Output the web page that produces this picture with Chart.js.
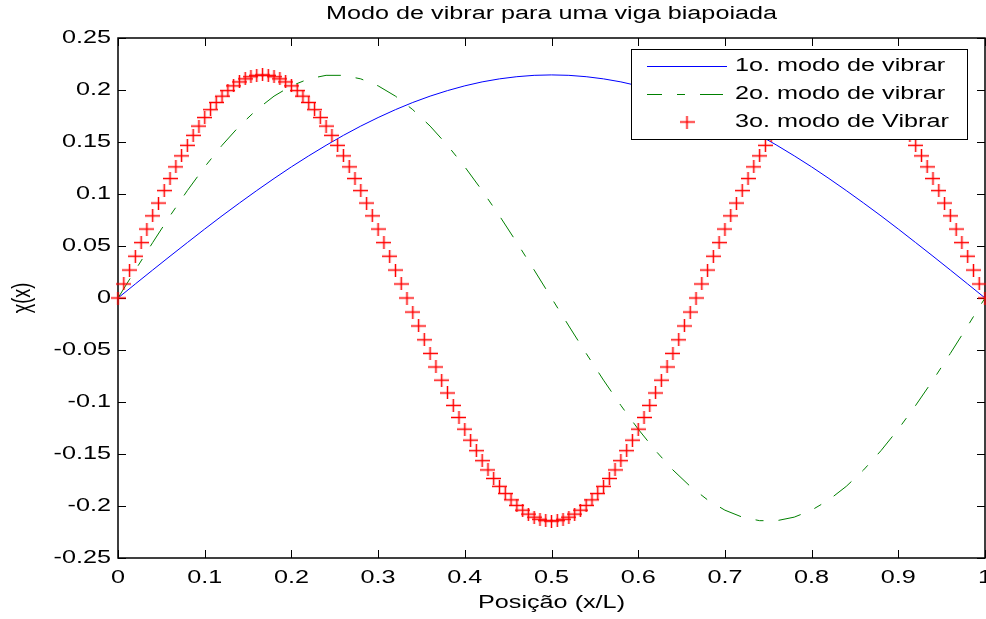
<!DOCTYPE html>
<html>
<head>
<meta charset="utf-8">
<title>Modo de vibrar para uma viga biapoiada</title>
<script src="https://cdn.jsdelivr.net/npm/chart.js"></script>
<style>
  body { margin: 0; background: #fff; }
  canvas { display: block; }
</style>
</head>
<body>
<canvas id="modos" width="986" height="619"></canvas>
<script>
// posições (x/L) das curvas continuas
var xLinha = [0, 0.02, 0.04, 0.06, 0.08, 0.1, 0.12, 0.14, 0.16, 0.18,
  0.2, 0.22, 0.24, 0.26, 0.28, 0.3, 0.32, 0.34, 0.36, 0.38,
  0.4, 0.42, 0.44, 0.46, 0.48, 0.5, 0.52, 0.54, 0.56, 0.58,
  0.6, 0.62, 0.64, 0.66, 0.68, 0.7, 0.72, 0.74, 0.76, 0.78,
  0.8, 0.82, 0.84, 0.86, 0.88, 0.9, 0.92, 0.94, 0.96, 0.98, 1];

var modo1 = [0, 0.0135, 0.0269, 0.0402, 0.0533, 0.0663, 0.0790, 0.0913, 0.1033, 0.1149,
  0.1261, 0.1367, 0.1468, 0.1564, 0.1653, 0.1735, 0.1811, 0.1880, 0.1941, 0.1994,
  0.2040, 0.2078, 0.2107, 0.2128, 0.2141, 0.2145, 0.2141, 0.2128, 0.2107, 0.2078,
  0.2040, 0.1994, 0.1941, 0.1880, 0.1811, 0.1735, 0.1653, 0.1564, 0.1468, 0.1367,
  0.1261, 0.1149, 0.1033, 0.0913, 0.0790, 0.0663, 0.0533, 0.0402, 0.0269, 0.0135, 0];

var modo2 = [0, 0.0269, 0.0533, 0.0790, 0.1033, 0.1261, 0.1468, 0.1653, 0.1811, 0.1941,
  0.2040, 0.2107, 0.2141, 0.2141, 0.2107, 0.2040, 0.1941, 0.1811, 0.1653, 0.1468,
  0.1261, 0.1033, 0.0790, 0.0533, 0.0269, 0,
  -0.0269, -0.0533, -0.0790, -0.1033, -0.1261, -0.1468, -0.1653, -0.1811, -0.1941,
  -0.2040, -0.2107, -0.2141, -0.2141, -0.2107, -0.2040, -0.1941, -0.1811, -0.1653, -0.1468,
  -0.1261, -0.1033, -0.0790, -0.0533, -0.0269, 0];

// posições dos marcadores do 3o. modo
var xCruz = [0, 0.0067, 0.0133, 0.02, 0.0267, 0.0333, 0.04, 0.0467, 0.0533,
  0.06, 0.0667, 0.0733, 0.08, 0.0867, 0.0933, 0.1, 0.1067, 0.1133,
  0.12, 0.1267, 0.1333, 0.14, 0.1467, 0.1533, 0.16, 0.1667, 0.1733,
  0.18, 0.1867, 0.1933, 0.2, 0.2067, 0.2133, 0.22, 0.2267, 0.2333,
  0.24, 0.2467, 0.2533, 0.26, 0.2667, 0.2733, 0.28, 0.2867, 0.2933,
  0.3, 0.3067, 0.3133, 0.32, 0.3267, 0.3333, 0.34, 0.3467, 0.3533,
  0.36, 0.3667, 0.3733, 0.38, 0.3867, 0.3933, 0.4, 0.4067, 0.4133,
  0.42, 0.4267, 0.4333, 0.44, 0.4467, 0.4533, 0.46, 0.4667, 0.4733,
  0.48, 0.4867, 0.4933, 0.5, 0.5067, 0.5133, 0.52, 0.5267, 0.5333,
  0.54, 0.5467, 0.5533, 0.56, 0.5667, 0.5733, 0.58, 0.5867, 0.5933,
  0.6, 0.6067, 0.6133, 0.62, 0.6267, 0.6333, 0.64, 0.6467, 0.6533,
  0.66, 0.6667, 0.6733, 0.68, 0.6867, 0.6933, 0.7, 0.7067, 0.7133,
  0.72, 0.7267, 0.7333, 0.74, 0.7467, 0.7533, 0.76, 0.7667, 0.7733,
  0.78, 0.7867, 0.7933, 0.8, 0.8067, 0.8133, 0.82, 0.8267, 0.8333,
  0.84, 0.8467, 0.8533, 0.86, 0.8667, 0.8733, 0.88, 0.8867, 0.8933,
  0.9, 0.9067, 0.9133, 0.92, 0.9267, 0.9333, 0.94, 0.9467, 0.9533,
  0.96, 0.9667, 0.9733, 0.98, 0.9867, 0.9933, 1];

var modo3 = [0, 0.0135, 0.0269, 0.0402, 0.0533, 0.0663, 0.0790, 0.0913, 0.1033, 0.1149,
  0.1261, 0.1367, 0.1468, 0.1564, 0.1653, 0.1735, 0.1811, 0.1880, 0.1941, 0.1994,
  0.2040, 0.2078, 0.2107, 0.2128, 0.2141, 0.2145,
  0.2141, 0.2128, 0.2107, 0.2078, 0.2040, 0.1994, 0.1941, 0.1880, 0.1811, 0.1735,
  0.1653, 0.1564, 0.1468, 0.1367, 0.1261, 0.1149, 0.1033, 0.0913, 0.0790, 0.0663,
  0.0533, 0.0402, 0.0269, 0.0135, 0,
  -0.0135, -0.0269, -0.0402, -0.0533, -0.0663, -0.0790, -0.0913, -0.1033, -0.1149, -0.1261,
  -0.1367, -0.1468, -0.1564, -0.1653, -0.1735, -0.1811, -0.1880, -0.1941, -0.1994, -0.2040,
  -0.2078, -0.2107, -0.2128, -0.2141, -0.2145,
  -0.2141, -0.2128, -0.2107, -0.2078, -0.2040, -0.1994, -0.1941, -0.1880, -0.1811, -0.1735,
  -0.1653, -0.1564, -0.1468, -0.1367, -0.1261, -0.1149, -0.1033, -0.0913, -0.0790, -0.0663,
  -0.0533, -0.0402, -0.0269, -0.0135, 0,
  0.0135, 0.0269, 0.0402, 0.0533, 0.0663, 0.0790, 0.0913, 0.1033, 0.1149, 0.1261,
  0.1367, 0.1468, 0.1564, 0.1653, 0.1735, 0.1811, 0.1880, 0.1941, 0.1994, 0.2040,
  0.2078, 0.2107, 0.2128, 0.2141, 0.2145,
  0.2141, 0.2128, 0.2107, 0.2078, 0.2040, 0.1994, 0.1941, 0.1880, 0.1811, 0.1735,
  0.1653, 0.1564, 0.1468, 0.1367, 0.1261, 0.1149, 0.1033, 0.0913, 0.0790, 0.0663,
  0.0533, 0.0402, 0.0269, 0.0135, 0];

var xTicks = [0, 0.1, 0.2, 0.3, 0.4, 0.5, 0.6, 0.7, 0.8, 0.9, 1];
var xTickLabels = ["0", "0.1", "0.2", "0.3", "0.4", "0.5", "0.6", "0.7", "0.8", "0.9", "1"];
var yTicks = [-0.25, -0.2, -0.15, -0.1, -0.05, 0, 0.05, 0.1, 0.15, 0.2, 0.25];
var yTickLabels = ["-0.25", "-0.2", "-0.15", "-0.1", "-0.05", "0", "0.05", "0.1", "0.15", "0.2", "0.25"];

var nomes = ["1o. modo de vibrar", "2o. modo de vibrar", "3o. modo de Vibrar"];
var titulo = "Modo de vibrar para uma viga biapoiada";
var tituloX = "Posição (x/L)";
var tituloY = "χ(x)";

var FONTE = "18px 'Liberation Sans', Arial, sans-serif";
var ESTICA = 1.4;   // texto levemente alargado na horizontal
var TICK = 8;
var TRACO_PONTO = [23, 15, 8, 15];

function pontos(xs, ys) {
  return xs.map(function (x, i) { return { x: x, y: ys[i] }; });
}

// marcador "+" do 3o. modo
var cruz = document.createElement('canvas');
cruz.width = 15;
cruz.height = 13;
var cc = cruz.getContext('2d');
cc.strokeStyle = '#ff0000';
cc.lineWidth = 1.5;
cc.beginPath();
cc.moveTo(0, 6.5); cc.lineTo(15, 6.5);
cc.moveTo(7.5, 0); cc.lineTo(7.5, 13);
cc.stroke();

function texto(ctx, s, x, y, align, girar) {
  ctx.save();
  ctx.translate(x, y);
  ctx.scale(ESTICA, 1);
  if (girar) ctx.rotate(-Math.PI / 2);
  ctx.font = FONTE;
  ctx.fillStyle = '#000';
  ctx.textAlign = align;
  ctx.textBaseline = 'middle';
  ctx.fillText(s, 0, 0);
  ctx.restore();
}

var eixos = {
  id: 'eixos',
  beforeDraw: function (chart) {
    var ctx = chart.ctx;
    ctx.save();
    ctx.fillStyle = '#fff';
    ctx.fillRect(0, 0, chart.width, chart.height);
    ctx.restore();
  },
  beforeDatasetsDraw: function (chart) {
    var ctx = chart.ctx, a = chart.chartArea;
    var sx = chart.scales.x, sy = chart.scales.y;
    ctx.save();
    ctx.strokeStyle = '#000';
    ctx.lineWidth = 1.5;
    ctx.strokeRect(a.left, a.top, a.right - a.left, a.bottom - a.top);
    ctx.lineWidth = 1;
    ctx.beginPath();
    xTicks.forEach(function (v) {
      var p = Math.round(sx.getPixelForValue(v)) + 0.5;
      ctx.moveTo(p, a.bottom); ctx.lineTo(p, a.bottom - TICK);
      ctx.moveTo(p, a.top); ctx.lineTo(p, a.top + TICK);
    });
    yTicks.forEach(function (v) {
      var p = Math.round(sy.getPixelForValue(v)) + 0.5;
      ctx.moveTo(a.left, p); ctx.lineTo(a.left + TICK, p);
      ctx.moveTo(a.right, p); ctx.lineTo(a.right - TICK, p);
    });
    ctx.stroke();
    ctx.restore();
  },
  afterDatasetsDraw: function (chart) {
    // legenda no canto superior direito
    var ctx = chart.ctx;
    var bx = 631, by = 49, bw = 336, bh = 90;
    var linhas = [66, 94, 122];
    ctx.save();
    ctx.fillStyle = '#fff';
    ctx.fillRect(bx, by, bw, bh);
    ctx.strokeStyle = '#000';
    ctx.lineWidth = 1;
    ctx.strokeRect(bx + 0.5, by + 0.5, bw, bh);

    ctx.strokeStyle = '#0000ff';
    ctx.beginPath(); ctx.moveTo(647, linhas[0] + 0.5); ctx.lineTo(727, linhas[0] + 0.5); ctx.stroke();
    ctx.strokeStyle = '#008000';
    ctx.setLineDash(TRACO_PONTO);
    ctx.lineDashOffset = 8;
    ctx.beginPath(); ctx.moveTo(647, linhas[1] + 0.5); ctx.lineTo(727, linhas[1] + 0.5); ctx.stroke();
    ctx.setLineDash([]);
    ctx.drawImage(cruz, 687 - 7.5, linhas[2] - 6.5);
    ctx.restore();

    nomes.forEach(function (n, i) { texto(ctx, n, 735, linhas[i], 'left'); });
  },
  afterDraw: function (chart) {
    var ctx = chart.ctx, a = chart.chartArea;
    var sx = chart.scales.x, sy = chart.scales.y;
    xTicks.forEach(function (v, i) {
      texto(ctx, xTickLabels[i], sx.getPixelForValue(v), 578, 'center');
    });
    yTicks.forEach(function (v, i) {
      texto(ctx, yTickLabels[i], 111, sy.getPixelForValue(v), 'right');
    });
    texto(ctx, tituloX, (a.left + a.right) / 2, 603, 'center');
    texto(ctx, tituloY, 23, (a.top + a.bottom) / 2, 'center', true);
    texto(ctx, titulo, (a.left + a.right) / 2, 14, 'center');
  }
};

new Chart(document.getElementById('modos'), {
  type: 'scatter',
  data: {
    datasets: [
      {
        label: nomes[0],
        data: pontos(xLinha, modo1),
        showLine: true,
        borderColor: '#0000ff',
        borderWidth: 1,
        pointRadius: 0,
        order: 3
      },
      {
        label: nomes[1],
        data: pontos(xLinha, modo2),
        showLine: true,
        borderColor: '#008000',
        borderWidth: 1,
        borderDash: TRACO_PONTO,
        pointRadius: 0,
        order: 2
      },
      {
        label: nomes[2],
        data: pontos(xCruz, modo3),
        showLine: false,
        pointStyle: cruz,
        pointRadius: 7,
        borderColor: '#ff0000',
        clip: false,
        order: 1
      }
    ]
  },
  options: {
    responsive: false,
    animation: false,
    events: [],
    layout: { autoPadding: false, padding: { top: 38, right: 1, left: 0, bottom: 0 } },
    plugins: {
      legend: { display: false },
      tooltip: { enabled: false },
      title: { display: false }
    },
    scales: {
      x: {
        type: 'linear', min: 0, max: 1,
        grid: { display: false }, border: { display: false }, ticks: { display: false },
        afterFit: function (s) { s.height = 61; }
      },
      y: {
        type: 'linear', min: -0.25, max: 0.25,
        grid: { display: false }, border: { display: false }, ticks: { display: false },
        afterFit: function (s) { s.width = 118; }
      }
    }
  },
  plugins: [eixos]
});
</script>
</body>
</html>
